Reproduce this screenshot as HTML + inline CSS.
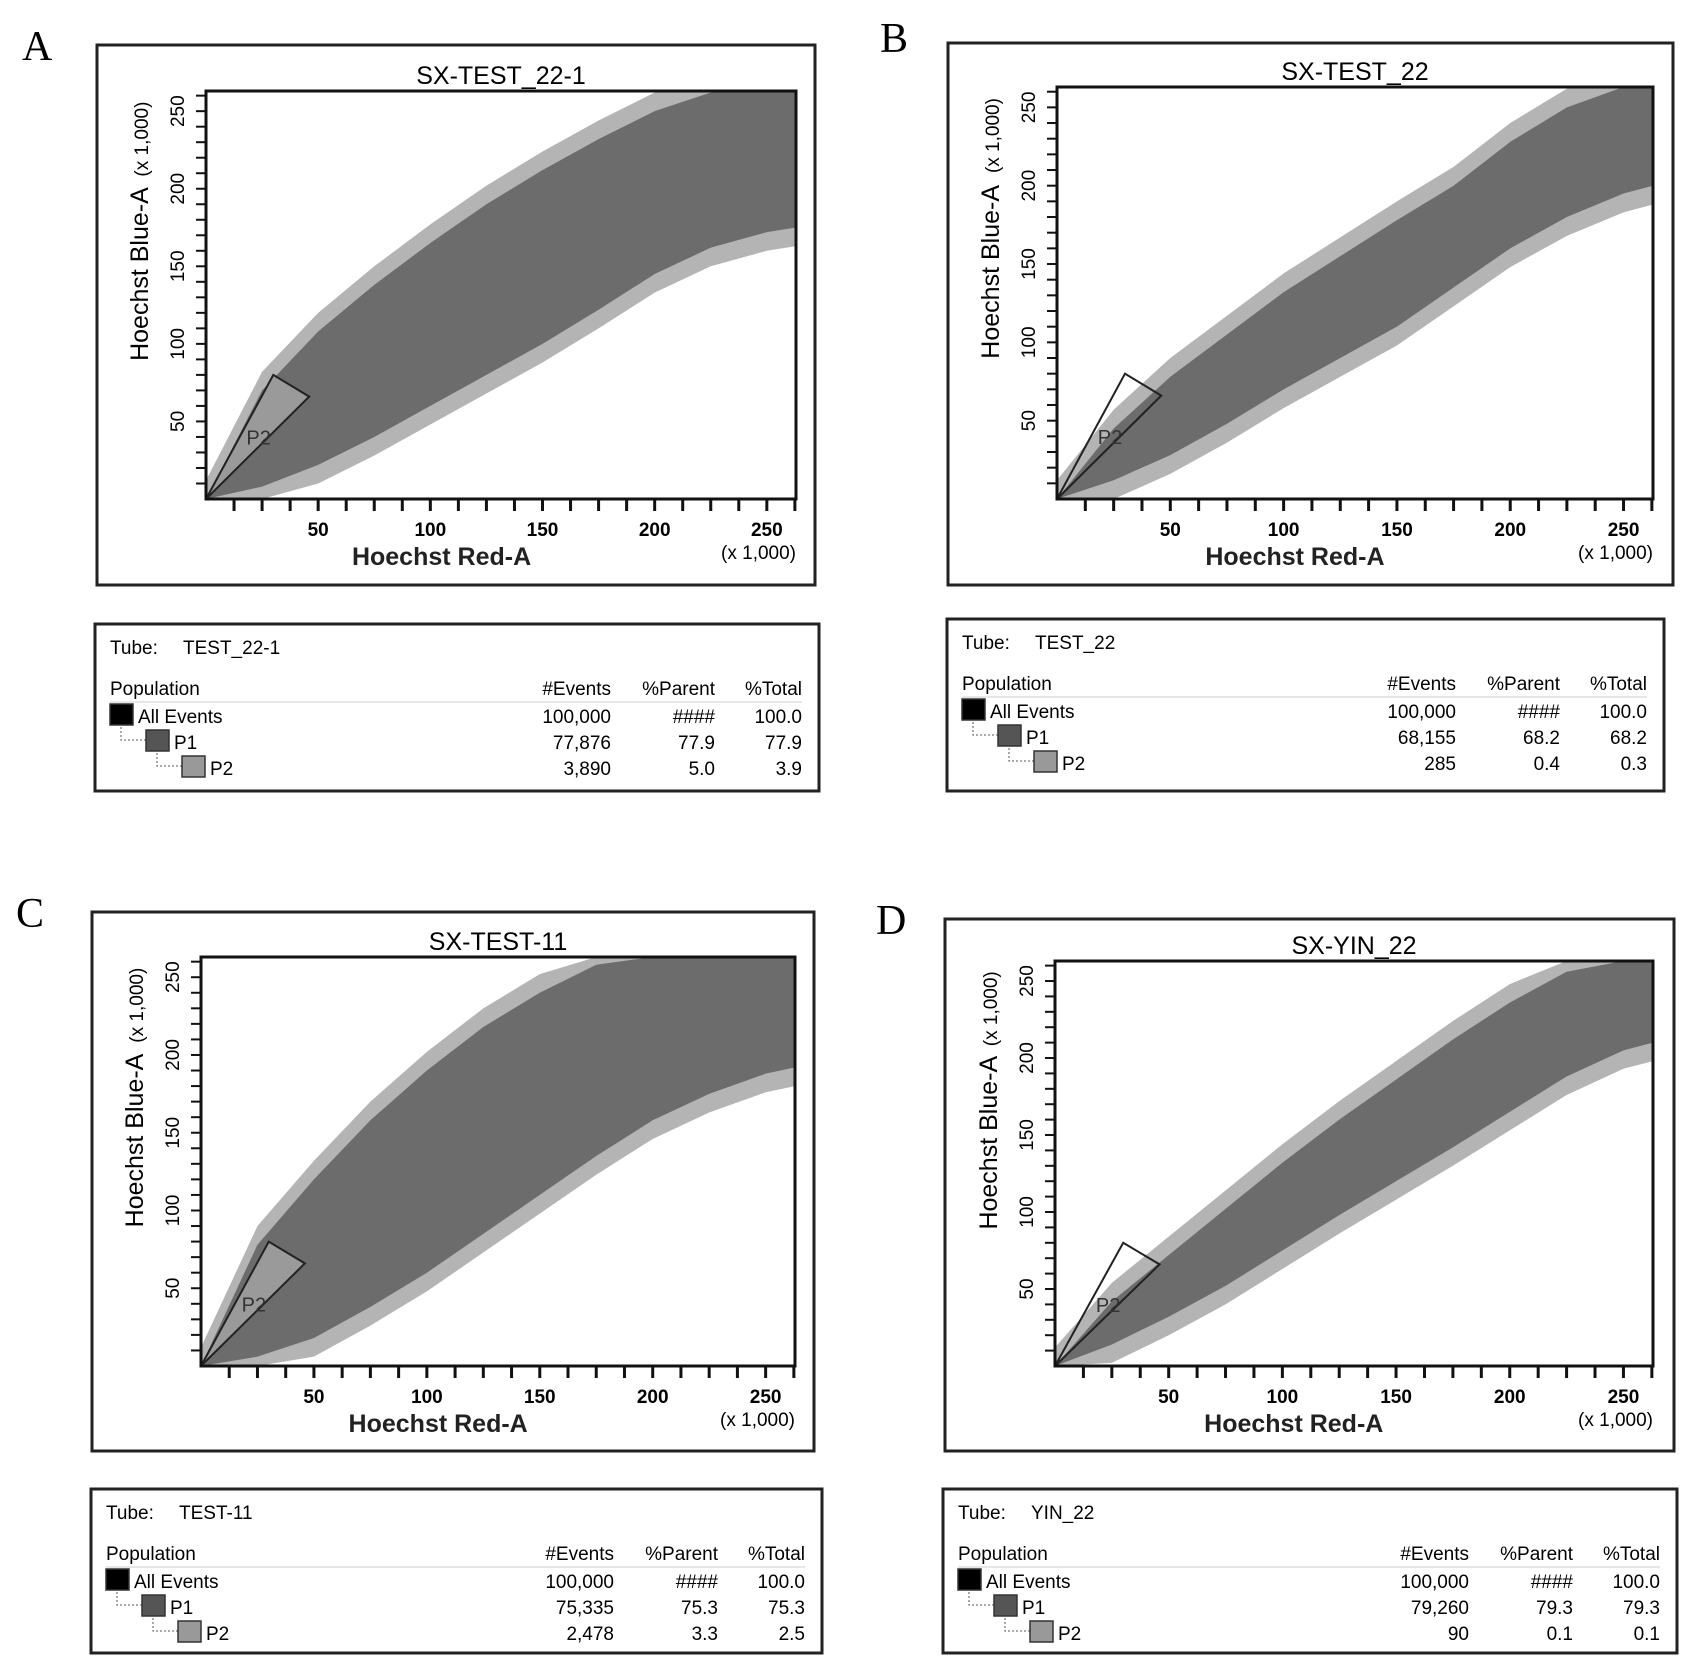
<!DOCTYPE html>
<html><head><meta charset="utf-8"><style>
html,body{margin:0;padding:0;background:#fff}
svg{display:block;font-family:"Liberation Sans",sans-serif}
</style></head><body>
<svg id="fig" width="1688" height="1674" viewBox="0 0 1688 1674" xmlns="http://www.w3.org/2000/svg"></svg>
<script>
// cloud x grid (x1000)
const cloudX = [0, 25, 50, 75, 100, 125, 150, 175, 200, 225, 250, 263];
const upperA = [0, 70, 108, 138, 165, 190, 212, 232, 250, 262, 263, 263];
const lowerA = [0, 8, 22, 40, 60, 80, 100, 122, 145, 162, 172, 175];
const upperB = [0, 45, 78, 105, 132, 155, 178, 200, 228, 250, 263, 263];
const lowerB = [0, 12, 28, 48, 70, 90, 110, 135, 160, 180, 195, 200];
const upperC = [0, 78, 120, 158, 190, 218, 240, 258, 263, 263, 263, 263];
const lowerC = [0, 6, 18, 38, 60, 85, 110, 135, 158, 175, 188, 192];
const upperD = [0, 42, 72, 102, 132, 160, 186, 212, 236, 256, 263, 263];
const lowerD = [0, 14, 32, 52, 75, 98, 120, 142, 165, 188, 205, 210];
const xTickLabels = [50, 100, 150, 200, 250];
const yTickLabels = [50, 100, 150, 200, 250];
const gateA = [[0,0],[30,80],[46,66]];
const gateB = [[0,0],[30,80],[46,66]];
const gateC = [[0,0],[30,80],[46,66]];
const gateD = [[0,0],[30,80],[46,66]];
const eventsA = ["100,000","77,876","3,890"], parentA = ["####","77.9","5.0"], totalA = ["100.0","77.9","3.9"];
const eventsB = ["100,000","68,155","285"], parentB = ["####","68.2","0.4"], totalB = ["100.0","68.2","0.3"];
const eventsC = ["100,000","75,335","2,478"], parentC = ["####","75.3","3.3"], totalC = ["100.0","75.3","2.5"];
const eventsD = ["100,000","79,260","90"], parentD = ["####","79.3","0.1"], totalD = ["100.0","79.3","0.1"];

const panels = [
 {id:"a",letter:"A",lx:22,ly:60,outer:[97,45,815,585],plot:[206,91,796,499],title:"SX-TEST_22-1",tube:"TEST_22-1",table:[95,624,819,791],up:upperA,lo:lowerA,gate:gateA,gfill:"#9a9a9a",ev:eventsA,pa:parentA,to:totalA},
 {id:"b",letter:"B",lx:880,ly:52,outer:[948,43,1673,585],plot:[1057,87,1653,499],title:"SX-TEST_22",tube:"TEST_22",table:[947,619,1664,791],up:upperB,lo:lowerB,gate:gateB,gfill:"none",ev:eventsB,pa:parentB,to:totalB},
 {id:"c",letter:"C",lx:16,ly:927,outer:[92,912,814,1451],plot:[201,957,795,1366],title:"SX-TEST-11",tube:"TEST-11",table:[91,1489,822,1653],up:upperC,lo:lowerC,gate:gateC,gfill:"#9a9a9a",ev:eventsC,pa:parentC,to:totalC},
 {id:"d",letter:"D",lx:876,ly:934,outer:[945,919,1674,1451],plot:[1055,961,1653,1366],title:"SX-YIN_22",tube:"YIN_22",table:[943,1489,1677,1653],up:upperD,lo:lowerD,gate:gateD,gfill:"none",ev:eventsD,pa:parentD,to:totalD}
];
const NS="http://www.w3.org/2000/svg";
const svg=document.getElementById("fig");
function mk(tag,attrs,parent,text){const e=document.createElementNS(NS,tag);for(const k in attrs)e.setAttribute(k,attrs[k]);if(text!==undefined)e.textContent=text;(parent||svg).appendChild(e);return e;}
const XMAX=263;
panels.forEach(p=>{
 const g=mk("g",{});
 
 
 const [px0,py0,px1,py1]=p.plot;
 const sx=v=>px0+(v/XMAX)*(px1-px0);
 const sy=v=>py1-(v/XMAX)*(py1-py0);
 const L=mk("text",{x:p.lx,y:p.ly,"font-family":"Liberation Serif,serif","font-size":42},g,p.letter);
 
 
 const ob=mk("rect",{x:p.outer[0],y:p.outer[1],width:p.outer[2]-p.outer[0],height:p.outer[3]-p.outer[1],fill:"#fff",stroke:"#222","stroke-width":3},g);
 
 
 const t=mk("text",{x:(px0+px1)/2,y:py0-7,"text-anchor":"middle","font-size":25},g,p.title);
 
 
 const halo=[],core=[];
 cloudX.forEach((x,i)=>{halo.push([sx(x),sy(Math.min(XMAX,p.up[i]+12))]);});
 for(let i=cloudX.length-1;i>=0;i--)halo.push([sx(cloudX[i]),sy(Math.max(0,p.lo[i]-12))]);
 cloudX.forEach((x,i)=>{core.push([sx(x),sy(p.up[i])]);});
 for(let i=cloudX.length-1;i>=0;i--)core.push([sx(cloudX[i]),sy(p.lo[i])]);
 const clip=mk("clipPath",{id:"clip"+p.id},g);mk("rect",{x:px0,y:py0,width:px1-px0,height:py1-py0},clip);
 const hp=mk("polygon",{points:halo.map(q=>q.join(",")).join(" "),fill:"#b4b4b4","clip-path":"url(#clip"+p.id+")"},g);
 
 
 const cp=mk("polygon",{points:core.map(q=>q.join(",")).join(" "),fill:"#6c6c6c","clip-path":"url(#clip"+p.id+")"},g);
 
 
 const gt=mk("polygon",{points:p.gate.map(q=>sx(q[0])+","+sy(q[1])).join(" "),fill:p.gfill,stroke:"#222","stroke-width":2},g);
 
 
 const gl=mk("text",{x:sx(p.gate[1][0]-12),y:sy(35),"font-size":20,fill:"#333"},g,"P2");
 
 
 const pr=mk("rect",{x:px0,y:py0,width:px1-px0,height:py1-py0,fill:"none",stroke:"#111","stroke-width":3},g);
 
 
 for(let v=12.5;v<XMAX;v+=12.5){
  const tx=mk("line",{x1:sx(v),x2:sx(v),y1:py1,y2:py1+12,stroke:"#111","stroke-width":3},g);
  
  
 }
 for(let v=10;v<XMAX;v+=10){
  const ty=mk("line",{x1:px0-10,x2:px0,y1:sy(v),y2:sy(v),stroke:"#111","stroke-width":2},g);
  
  
 }
 xTickLabels.forEach(v=>{
  const e=mk("text",{x:sx(v),y:py1+37,"text-anchor":"middle","font-size":19,"font-weight":"bold"},g,String(v));
  
  
 });
 yTickLabels.forEach(v=>{
  const e=mk("text",{x:0,y:0,"text-anchor":"middle","font-size":19,transform:`translate(${px0-22},${sy(v)}) rotate(-90)`},g,String(v));
  
  
 });
 const xt=mk("text",{x:sx(105),y:py1+66,"text-anchor":"middle","font-size":25,"font-weight":"bold",fill:"#222"},g,"Hoechst Red-A");
 
 
 const xu=mk("text",{x:px1,y:py1+60,"text-anchor":"end","font-size":19},g,"(x 1,000)");
 
 
 const yt=mk("text",{x:0,y:0,"text-anchor":"middle","font-size":25,transform:`translate(${px0-58},${sy(145)}) rotate(-90)`},g,"Hoechst Blue-A");
 
 
 const yu=mk("text",{x:0,y:0,"text-anchor":"middle","font-size":19,transform:`translate(${px0-58},${sy(232)}) rotate(-90)`},g,"(x 1,000)");
 
 
 const [tx0,ty0,tx1,ty1]=p.table;
 const tb=mk("rect",{x:tx0,y:ty0,width:tx1-tx0,height:ty1-ty0,fill:"#fff",stroke:"#222","stroke-width":3},g);
 
 
 const tu=mk("text",{x:tx0+15,y:ty0+30,"font-size":19},g,"Tube:");
 
 
 const tn=mk("text",{x:tx0+88,y:ty0+30,"font-size":19},g,p.tube);
 
 
 const c1=tx1-208,c2=tx1-104,c3=tx1-17;
 const hy=ty0+71;
 [["Population",tx0+15,"start"],["#Events",c1,"end"],["%Parent",c2,"end"],["%Total",c3,"end"]].forEach(h=>{
  const e=mk("text",{x:h[1],y:hy,"text-anchor":h[2],"font-size":19},g,h[0]);
  
  
 });
 mk("line",{x1:tx0+15,x2:c3,y1:hy+7,y2:hy+7,stroke:"#ccc","stroke-width":1},g);
 const names=["All Events","P1","P2"],cols=["#000","#555","#999"];
 names.forEach((n,i)=>{
  const ry=hy+28+i*26, ind=i*36;
  if(i>0){mk("path",{d:`M${tx0+ind-10} ${ry-22} V${ry-9} H${tx0+ind+15}`,fill:"none",stroke:"#555","stroke-width":1,"stroke-dasharray":"2,2"},g);}
  const sq=mk("rect",{x:tx0+ind+15,y:ry-19,width:23,height:21,fill:cols[i],stroke:"#333","stroke-width":1.5},g);
  
  
  const nm=mk("text",{x:tx0+ind+43,y:ry,"font-size":19},g,n);
  
  
  [[p.ev[i],c1],[p.pa[i],c2],[p.to[i],c3]].forEach(v=>{
   const e=mk("text",{x:v[1],y:ry,"text-anchor":"end","font-size":19},g,v[0]);
   
   
  });
 });
});
</script>
</body></html>
